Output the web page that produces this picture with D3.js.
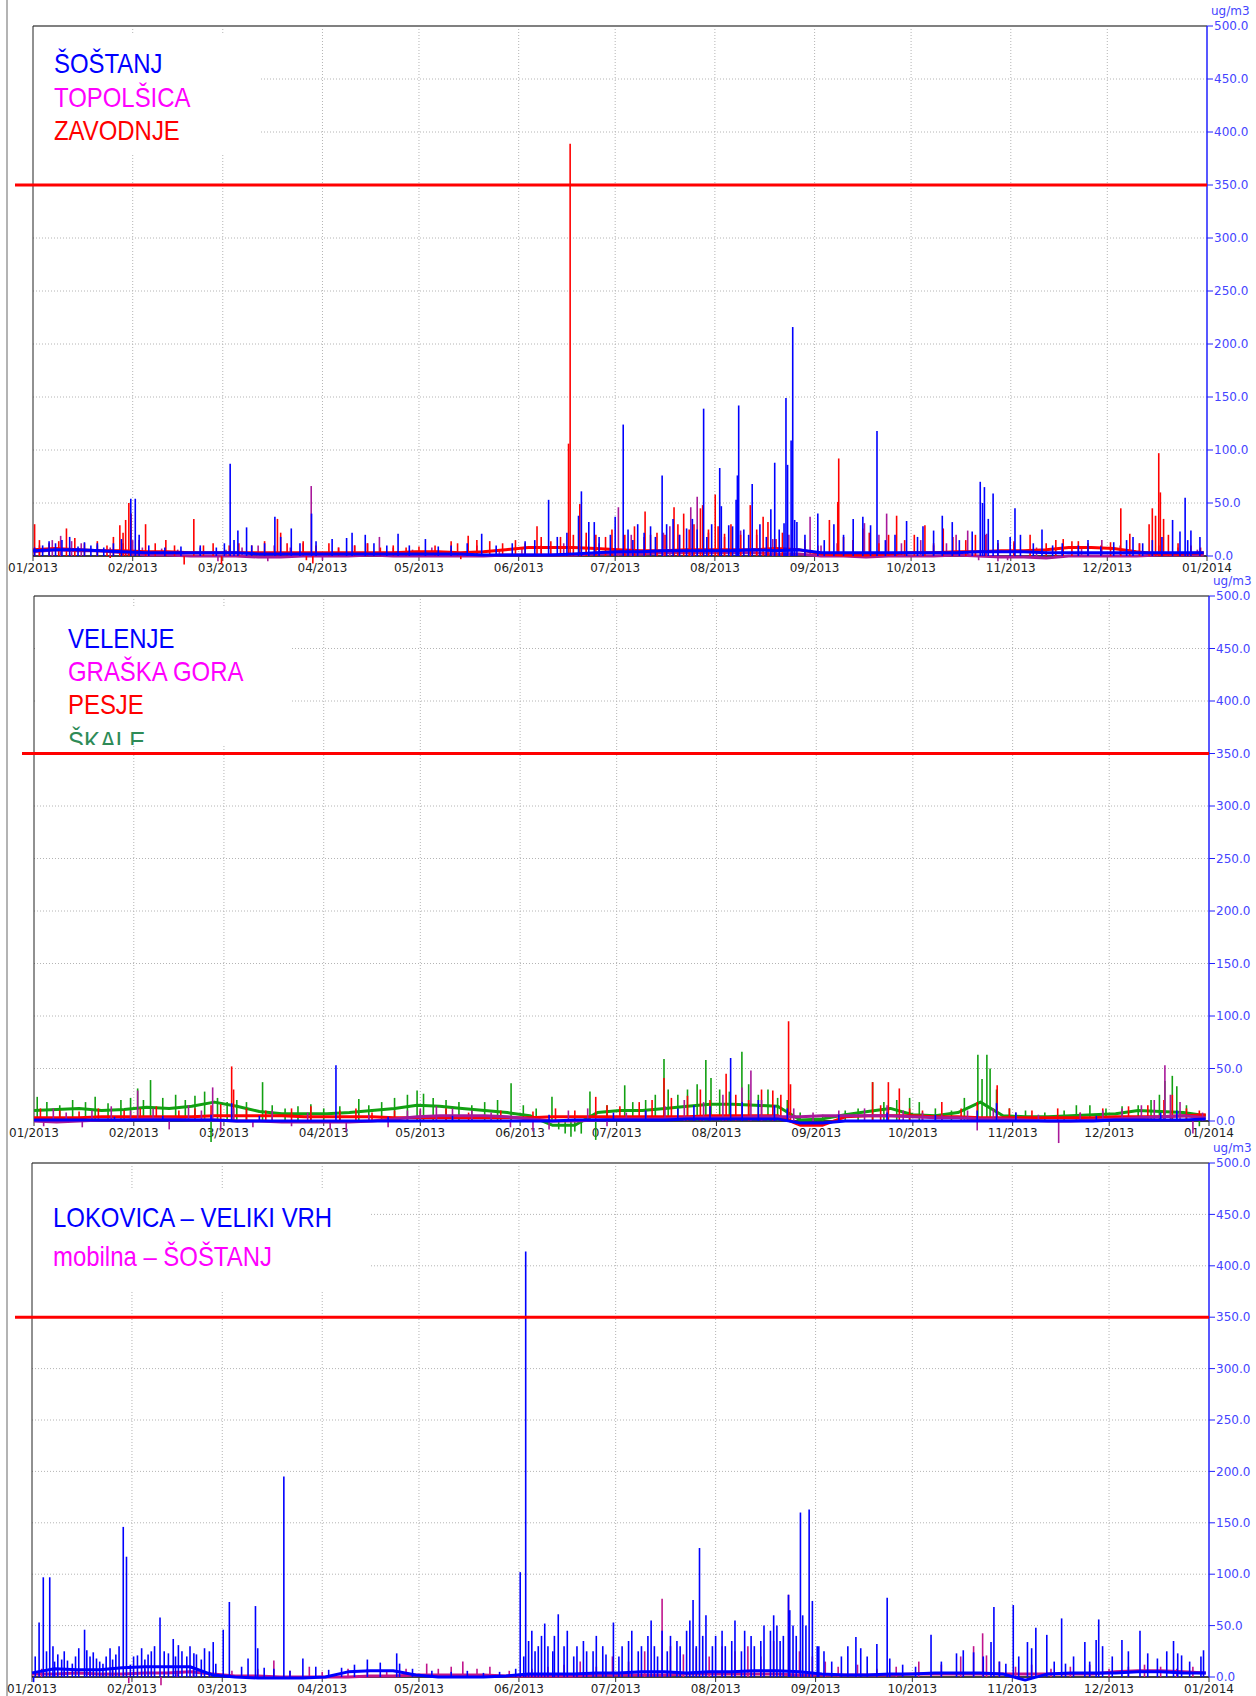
<!DOCTYPE html>
<html>
<head>
<meta charset="utf-8">
<script src="https://cdn.jsdelivr.net/npm/d3@7"></script>
<style>
  body { margin: 0; background: #fff; }
  svg { display: block; }
</style>
</head>
<body>
<svg id="chart" width="1256" height="1696"></svg>
<script>
// x tick labels (one per month, 01/2013 .. 01/2014)
var monthLabels = ["01/2013", "02/2013", "03/2013", "04/2013", "05/2013", "06/2013",
  "07/2013", "08/2013", "09/2013", "10/2013", "11/2013", "12/2013", "01/2014"];
var yTicks = [0, 50, 100, 150, 200, 250, 300, 350, 400, 450, 500];
var limitValue = 350;

// ---- panel 1 ----
// weekly base level (week i starts at day 7*i of 2013), ug/m3
var sostanjBase = [5,6,6,5,4, 3,3,3,3, 3,2,2,2, 2,2,2,2,2, 2,2,1,1, 1,1,2,3, 4,4,5,5,5, 5,6,5,6, 3,3,3,3, 3,3,3,4,4, 4,3,3,3, 3,3,3,3,3];
var topolsicaBase = [4,6,5,5,3, 1,1,0,0, 0,-1,-1,0, 0,0,1,0,0, 0,0,0,1, 1,1,1,2, 2,2,3,3,3, 3,3,2,2, 0,0,-1,0, 0,0,1,0,-1, -1,-2,0,0, 0,0,1,1,1];
var zavodnjeBase = [6,7,6,5,5, 4,4,3,3, 3,3,3,3, 3,3,3,3,4, 4,3,4,6, 8,8,8,7, 6,5,5,6,6, 6,6,7,6, 2,1,1,2, 3,3,4,4,5, 5,6,8,8, 7,4,2,2,3];
// peaks: [day of year, ug/m3]
var sostanjPeaks = [[0.5,8],[3,10],[5,14],[7,12],[9,15],[11.4,18],[14,9],[16,13],[18,10],[20,12],[22,8],[25,12],[27.5,16],[30.4,54],[31.8,54],[33,20],[36,10],[41,8],[46,9],[52,10],[57,8],[59.5,12],[61.3,87],[62.5,15],[63.7,24],[66.4,27],[68,10],[72,12],[75.2,37],[77,18],[80.3,26],[83,12],[86.6,40],[88,14],[93,16],[97.5,17],[99.2,22],[103.3,20],[106,12],[110,10],[113.5,21],[117,10],[122,16],[126,9],[130,10],[135,12],[139.5,21],[144,10],[149,12],[153,14],[156,15],[160.3,53],[163,18],[166,22],[169.6,38],[170.5,61],[172.8,32],[174.5,32],[176,18],[179.5,20],[181,37],[183.5,124],[185,25],[186.5,15],[188,30],[190,22],[192,28],[193.5,18],[195.6,76],[197,30],[199,35],[201,20],[203.2,26],[205,35],[206.5,25],[208.5,139],[209.5,18],[211,30],[213.5,83],[214,47],[216.3,29],[217.5,28],[218.6,53],[219,76],[219.4,142],[221,25],[222.5,20],[223.6,68],[226,30],[228,18],[229.4,44],[230.6,88],[232,25],[233.5,31],[234.1,149],[234.6,86],[235.7,109],[236.2,216],[236.8,34],[237.5,32],[240,20],[244,40],[246,15],[249,30],[252,20],[255,35],[258,37],[260.4,29],[262.4,118],[265,15],[268,20],[271.6,33],[275,18],[276.7,28],[280,24],[282.7,38],[285.8,32],[288,15],[292,23],[294.5,70],[295.2,50],[295.8,65],[297,35],[298.5,59],[300,15],[303.8,18],[305.3,45],[307,20],[311,12],[313.7,25],[317,10],[320,12],[325,10],[328,15],[332,9],[336,13],[340,15],[342,18],[345,12],[348,15],[351,18],[354.3,34],[356.6,23],[358.2,55],[359,15],[360,24],[362.8,18]];
var topolsicaPeaks = [[2,10],[6,15],[8.6,19],[12,14],[15,12],[20,10],[24,8],[28,12],[31,15],[34,8],[40,7],[45,6],[52,8],[57.5,-5],[60,6],[65,8],[70,10],[73,-5],[75,10],[80,8],[84,12],[86.5,66],[90,-4],[95,8],[100,10],[104,12],[107.7,18],[112,8],[118,6],[124,8],[130,6],[138,10],[145,6],[152,8],[158,10],[165,12],[172,15],[176,12],[182,46],[186,20],[190,18],[196,22],[198,28],[201,20],[204.5,46],[206.5,56],[210,22],[215,18],[220,24],[225,20],[230,16],[235,20],[241.6,37],[245,10],[250,12],[255,15],[258.5,31],[263,20],[265.4,40],[270,12],[276,15],[280,10],[284,12],[287,20],[290.6,24],[294,-4],[296.5,21],[300,-5],[303,-4],[305,12],[312,8],[320,6],[326,8],[332.3,15],[338,10],[344,12],[350,10],[356,8],[362,6]];
var zavodnjePeaks = [[0.5,30],[2,15],[5,12],[8,14],[10.4,26],[13,17],[16,12],[20,14],[23,10],[24,-2],[25,18],[27,29],[28,22],[28.8,34],[29.8,50],[30.5,40],[33,15],[35,30],[38,12],[41.3,15],[44,10],[47,-8],[50,35],[53,10],[56,12],[58.6,-8],[61,10],[64,12],[68,10],[72,14],[76,35],[77,22],[79,12],[84,14],[85,-4],[87,-7],[88,10],[92,12],[95,8],[100,10],[104,12],[108,8],[112,10],[116,8],[120,9],[125,10],[130,14],[132,12],[133,-3],[135.3,19],[138,15],[142,14],[146,12],[150,15],[153,12],[156.7,28],[158,18],[161,14],[164,18],[166.5,106],[167,389],[168,20],[170,49],[172,22],[175,20],[178,18],[180,25],[184,20],[187,28],[190.3,42],[192,20],[194,22],[196.5,20],[199.3,46],[200.5,30],[202.3,40],[204,25],[205.5,30],[207.5,45],[208.2,48],[210,25],[212.1,58],[213,28],[215,21],[217,30],[220,20],[223,48],[225,25],[227,37],[228.5,32],[231,16],[233,22],[236,25],[240,15],[244,10],[247.6,34],[250.2,51],[250.5,92],[252,18],[255,15],[258,26],[260,22],[263,12],[266,20],[268.5,38],[271,15],[274,20],[277.3,29],[280,12],[283,26],[286,18],[290,15],[293,20],[296,20],[300,12],[305,14],[310,20],[315,12],[318,15],[320.3,16],[323,14],[325,14],[328,12],[332,10],[335,13],[338.2,45],[341,21],[344,12],[347,30],[348,45],[349,38],[350,97],[350.5,60],[351.5,35],[353,20],[356,12],[360,10],[363,8]];

// ---- panel 2 ----
var velenjeBase = [1,1,1,1,1, 1,1,1,1, 0,0,0,0, 0,0,0,0,0, 0,0,0,0, 0,0,1,1, 1,1,1,2,2, 2,2,2,-2, -2,0,0,0, 0,0,0,0,0, 0,0,0,0, 1,1,1,1,2];
var graskaBase = [0,-1,0,1,1, 2,2,1,1, 0,0,-1,-1, -1,-1,0,2,4, 5,5,5,4, 2,0,0,1, 2,2,2,3,3, 3,4,4,4, 5,5,5,5, 4,3,3,2,2, 1,0,0,1, 2,3,4,5,3];
var pesjeBase = [3,3,3,4,4, 4,4,4,5, 5,5,5,4, 4,4,4,3,3, 3,3,3,3, 3,4,4,4, 4,4,4,4,5, 5,5,5,-4, -4,4,5,5, 5,4,4,3,3, 3,3,3,3, 4,4,4,5,6];
var skaleBase = [10,11,12,10,11, 13,12,14,18, 14,9,7,7, 7,8,10,12,15, 14,12,10,8, 5,-4,-4,8, 10,10,12,14,16, 16,15,14,1, 2,6,9,12, 6,5,8,18,5, 4,4,5,6, 7,10,9,8,5];
var velenjePeaks = [[25,4],[40,5],[55,6],[61.4,17],[70,5],[93.8,53],[110,4],[130,5],[160,6],[180,8],[190,10],[200,12],[205,15],[210,14],[216.4,60],[220,18],[225,20],[230,15],[234,12],[250,6],[265,8],[280,6],[293,10],[299,17],[305,8],[330,5],[350,8],[355,10]];
var graskaPeaks = [[3,-5],[6,12],[10,8],[15,-6],[18,10],[24,14],[30,10],[32.2,29],[37,12],[42,-8],[48,15],[52,10],[55.5,32],[58,-10],[62,12],[68,-6],[74,10],[80,-5],[85,8],[92,-8],[97,-10],[104,6],[110,-6],[116,10],[120,12],[125,14],[130,12],[136,10],[142,8],[148,-6],[155,-10],[160,-8],[166,10],[172,12],[178,-5],[184,8],[190,10],[196,14],[202,20],[208,18],[214,25],[219.9,32],[222.7,48],[226,20],[230,15],[236,12],[242,8],[250,10],[258,12],[265,15],[270,10],[276,8],[282,6],[290,10],[293,-9],[298,12],[305,8],[312,6],[318.3,-21],[325,8],[332,10],[338,12],[344,15],[348,20],[351.3,53],[353,25],[356,18],[360,-12],[363,8]];
var pesjePeaks = [[2,12],[8,10],[14,9],[20,12],[28,10],[33,12],[38,14],[45,10],[50,12],[55,15],[58,16],[61.4,52],[62,30],[66,12],[72,10],[80,12],[86,14],[95,10],[100,12],[105,8],[112,10],[120,10],[128,12],[135,8],[145,10],[155,9],[162,12],[168,10],[174.5,23],[178,15],[182,14],[188,18],[192,20],[195.7,41],[198,22],[203,24],[207,30],[210,20],[215,45],[218,25],[222,20],[226,30],[229.5,29],[232,25],[234.4,95],[235,35],[260.5,37],[263,15],[265.4,37],[268.8,31],[272,12],[276,10],[282,18],[288,12],[293,18],[299.2,34],[303,12],[310,10],[318,12],[325,8],[332,12],[340,14],[346,15],[351,20],[353.6,25],[358,12],[362,10]];
var skalePeaks = [[1,23],[4,18],[8,15],[12,20],[16,18],[19,23],[23,17],[27,20],[30,22],[32.2,31],[34,20],[36.2,39],[40,22],[44,25],[47,20],[50,24],[53,28],[55,-20],[57,22],[60,18],[63,20],[66,18],[71,37],[74,15],[78,12],[82,14],[86,16],[90,12],[95,14],[100.9,21],[104,15],[108,18],[112,22],[116,25],[119,29],[121,26],[124,22],[128,20],[132,18],[136,15],[140,18],[144,20],[148.2,36],[152,15],[156,12],[160.9,23],[163,-8],[165,-12],[166.8,-15],[168,-10],[170,-12],[172.7,28],[174.5,-18],[178,15],[183.5,34],[186,18],[190,20],[193,25],[195.7,59],[197,30],[200,25],[203,30],[206,35],[208.7,58],[210.3,41],[213,30],[216,28],[219.9,66],[222,35],[225,25],[228,30],[231,22],[234,20],[238,8],[245,6],[252,10],[256,12],[260.5,37],[264,18],[268,20],[272,22],[275,18],[280,12],[285,10],[289,22],[293.2,63],[294.5,40],[296,63],[297,50],[299,30],[303,12],[308,10],[314,8],[320,10],[323.8,15],[328,15],[333,12],[338,14],[343,15],[347,20],[349.6,25],[351.3,38],[353.6,43],[355,33],[358,15],[362,-5]];

// ---- panel 3 ----
var lokovicaBase = [4,8,7,7,9, 10,10,10,2, 0,-1,-1,-1, 0,5,6,6,2, 0,0,0,1, 3,3,3,4, 4,5,5,4,5, 5,6,6,5, 3,2,2,3, 3,4,4,4,3, -3,3,4,4, 4,5,5,4,4];
var mobilnaBase = [3,3,4,3,3, 4,4,5,3, 1,1,0,0, 0,0,1,1,2, 2,2,2,1, 1,1,1,2, 2,2,2,3,3, 3,3,3,2, 2,2,2,2, 3,3,3,3,3, 3,3,3,3, 5,6,6,5,4];
var lokovicaPeaks = [[0.5,-5],[1,20],[2.2,53],[3.5,97],[4.5,25],[5.5,97],[6.5,30],[7,15],[8,22],[9.2,17],[10,25],[11,16],[12.5,13],[13.5,20],[14.5,28],[16.3,46],[17,26],[18,20],[19,24],[20,18],[21,15],[22,13],[23,20],[24.2,28],[25,17],[26,22],[27,30],[28.3,146],[29.3,117],[30.5,12],[31.5,20],[32.7,21],[34,28],[35,17],[36,22],[37,25],[38,30],[39.7,58],[41,25],[42.3,23],[43.8,37],[44.5,20],[45.4,31],[46.5,25],[48,20],[49,30],[50.2,23],[51,22],[52.5,17],[53.5,28],[55,25],[56.2,34],[57,13],[59.3,46],[61.2,73],[65,10],[67,18],[69.3,69],[70,28],[72,9],[75,8],[78.1,195],[80,6],[84,18],[88,10],[92,7],[96,9],[100,12],[104,17],[108,14],[113.1,23],[114,13],[118,8],[124,6],[130,5],[135,6],[140,4],[145,5],[150,8],[151.4,102],[152.5,20],[153.1,414],[154,35],[155,45],[156,25],[157,30],[158,40],[159,52],[160,30],[161.5,25],[162,40],[163.2,61],[165,30],[166,45],[168,20],[169,30],[171,35],[172,25],[174,25],[175,40],[177,30],[178,22],[180.3,53],[182,20],[183,30],[185,35],[186,45],[188,25],[189,30],[191,40],[192,55],[193,30],[194,20],[195.4,45],[197,25],[198,40],[200,35],[201,30],[203,45],[204,55],[205,75],[206,30],[207,125.5],[208,40],[209,60],[211,30],[212,40],[214,45],[215,30],[217,35],[218,55],[220,25],[221,45],[223,40],[224,30],[226,35],[227,50],[229,45],[230,60],[231,50],[232,35],[233,40],[234.6,80],[235,65],[236,50],[237,40],[238.3,160],[239,60],[240,50],[241,163],[242,74],[243.5,30],[244,30],[245.6,25],[248,15],[251,20],[253,30],[255.5,39],[257,28],[259,20],[262,32],[265.2,77],[266,18],[270,12],[274,10],[278.8,41],[282,15],[286.7,23],[288.8,26],[292,24],[295,20],[297.4,34],[298.3,68],[300,15],[302,13],[304.3,70],[306,20],[308.7,34],[310,28],[311.3,48],[314.7,41],[317,15],[319.3,57],[320.5,13],[323,20],[326.5,34],[328,15],[330,36],[330.8,56],[332,30],[335,20],[338,36],[340,25],[343.6,45],[346,23],[349,18],[351.9,25],[354,35],[355.3,23],[356.5,21],[359,15],[362.5,20],[363.3,26]];
var mobilnaPeaks = [[3,8],[10,6],[18,8],[25,10],[30,-6],[35,8],[40,-8],[45,6],[50,7],[55,5],[62,6],[70,8],[75,16],[80,6],[86,10],[90,5],[98,8],[104,8],[110,6],[116,8],[122.4,13],[126,8],[130,10],[133.6,15],[138,8],[142,10],[148,6],[155,8],[160,10],[165,12],[170,15],[175,10],[180,20],[185,15],[190,25],[195.4,76],[198,30],[202,22],[206,28],[210,20],[214,30],[218,25],[222,30],[226,20],[230,35],[234.6,80],[238,25],[242,20],[246,15],[250,10],[256,12],[262,8],[268,10],[275,15],[282,12],[288,20],[292,30],[294.8,42.5],[296,21],[300,15],[305,10],[310,12],[316,8],[322,10],[328,12],[334,8],[340,10],[345,12],[350,10],[355,8],[360,10]];

var svg = d3.select("#chart");
var start = Date.UTC(2013, 0, 1);
function day(d) { return new Date(start + d * 864e5); }

var legendFont = "'Liberation Sans', Arial, sans-serif";
var axisFont = "'DejaVu Sans', Verdana, sans-serif";

// page border on the left
svg.append("line")
  .attr("x1", 7).attr("x2", 7).attr("y1", 0).attr("y2", 1696)
  .attr("stroke", "#b4b4b4").attr("stroke-width", 2);

var panels = [
  {
    left: 33, right: 1207, top: 26, bottom: 556, limitX: 15,
    box: [33, 35, 227, 120], clipY: null, legendX: 54, legendY: [73, 107, 140],
    names: ["ŠOŠTANJ", "TOPOLŠICA", "ZAVODNJE"],
    nameColors: ["#0000ff", "#ff00ff", "#ff0000"],
    series: [
      { base: topolsicaBase, peaks: topolsicaPeaks, color: "#a8189a" },
      { base: zavodnjeBase, peaks: zavodnjePeaks, color: "#ff0000" },
      { base: sostanjBase, peaks: sostanjPeaks, color: "#0000ff" }
    ]
  },
  {
    left: 34, right: 1209, top: 596, bottom: 1121, limitX: 22,
    box: [35, 608, 255, 138], clipY: 745, legendX: 68, legendY: [648, 681, 714, 751],
    names: ["VELENJE", "GRAŠKA GORA", "PESJE", "ŠKALE"],
    nameColors: ["#0000ff", "#ff00ff", "#ff0000", "#2e8b57"],
    series: [
      { base: skaleBase, peaks: skalePeaks, color: "#12a012" },
      { base: pesjeBase, peaks: pesjePeaks, color: "#ff0000" },
      { base: graskaBase, peaks: graskaPeaks, color: "#a8189a" },
      { base: velenjeBase, peaks: velenjePeaks, color: "#0000ff" }
    ]
  },
  {
    left: 32, right: 1209, top: 1163, bottom: 1677, limitX: 15,
    box: [32, 1188, 338, 102], clipY: null, legendX: 53, legendY: [1227, 1266],
    names: ["LOKOVICA – VELIKI VRH", "mobilna – ŠOŠTANJ"],
    nameColors: ["#0000ff", "#ff00ff"],
    series: [
      { base: mobilnaBase, peaks: mobilnaPeaks, color: "#c0148c" },
      { base: lokovicaBase, peaks: lokovicaPeaks, color: "#0000ff" }
    ]
  }
];

panels.forEach(drawPanel);

function drawPanel(p, pi) {
  var x = d3.scaleUtc().domain([day(0), day(365)]).range([p.left, p.right]);
  var y = d3.scaleLinear().domain([0, 500]).range([p.bottom, p.top]);
  var g = svg.append("g");
  var months = x.ticks(d3.utcMonth.every(1));

  // dotted grid
  g.selectAll(".vgrid").data(months.slice(1, -1)).join("line")
    .attr("x1", d => x(d)).attr("x2", d => x(d))
    .attr("y1", p.top).attr("y2", p.bottom)
    .attr("stroke", "#b4b4b4").attr("stroke-dasharray", "1,2");
  g.selectAll(".hgrid").data(yTicks.slice(1, -1)).join("line")
    .attr("x1", p.left).attr("x2", p.right)
    .attr("y1", d => y(d)).attr("y2", d => y(d))
    .attr("stroke", "#b4b4b4").attr("stroke-dasharray", "1,2");

  // legend background hides the grid
  g.append("rect")
    .attr("x", p.box[0]).attr("y", p.box[1])
    .attr("width", p.box[2]).attr("height", p.box[3])
    .attr("fill", "#fff");

  // frame
  g.append("line").attr("x1", p.left).attr("x2", p.right).attr("y1", p.top).attr("y2", p.top)
    .attr("stroke", "#808080").attr("stroke-width", 2);
  g.append("line").attr("x1", p.left).attr("x2", p.left).attr("y1", p.top).attr("y2", p.bottom)
    .attr("stroke", "#222").attr("stroke-width", 1);
  g.append("line").attr("x1", p.left).attr("x2", p.right).attr("y1", p.bottom).attr("y2", p.bottom)
    .attr("stroke", "#000").attr("stroke-width", 1.5);

  // x ticks and labels
  g.selectAll(".xtick").data(months).join("line")
    .attr("x1", d => x(d)).attr("x2", d => x(d))
    .attr("y1", p.bottom).attr("y2", p.bottom + 5)
    .attr("stroke", "#333");
  g.selectAll(".xlabel").data(months).join("text")
    .attr("x", d => x(d)).attr("y", p.bottom + 16)
    .attr("text-anchor", "middle")
    .attr("font-family", axisFont).attr("font-size", 12).attr("fill", "#222")
    .text((d, i) => monthLabels[i]);

  // series: base level line plus peak strokes
  var line = d3.line().x((d, i) => x(day(i * 7))).y(d => y(d));
  p.series.forEach(function (s) {
    g.append("path").datum(s.base)
      .attr("d", line)
      .attr("fill", "none").attr("stroke", s.color)
      .attr("stroke-width", 3).attr("stroke-linejoin", "round");
    g.append("g").selectAll("line").data(s.peaks).join("line")
      .attr("x1", d => x(day(d[0]))).attr("x2", d => x(day(d[0])))
      .attr("y1", y(0)).attr("y2", d => y(d[1]))
      .attr("stroke", s.color).attr("stroke-width", 1.6);
  });

  // right axis
  g.append("line").attr("x1", p.right).attr("x2", p.right).attr("y1", p.top).attr("y2", p.bottom)
    .attr("stroke", "#2020ff").attr("stroke-width", 1.5);
  g.selectAll(".ytick").data(yTicks).join("line")
    .attr("x1", p.right).attr("x2", p.right + 6)
    .attr("y1", d => y(d)).attr("y2", d => y(d))
    .attr("stroke", "#2020ff");
  g.selectAll(".ylabel").data(yTicks).join("text")
    .attr("x", p.right + 7).attr("y", d => y(d)).attr("dy", "0.35em")
    .attr("font-family", axisFont).attr("font-size", 12).attr("fill", "#4444ff")
    .text(d => d3.format(".1f")(d));
  g.append("text")
    .attr("x", p.right + 4).attr("y", p.top - 11)
    .attr("font-family", axisFont).attr("font-size", 12).attr("fill", "#4444ff")
    .text("ug/m3");

  // 350 ug/m3 limit
  g.append("line")
    .attr("x1", p.limitX).attr("x2", p.right)
    .attr("y1", y(limitValue)).attr("y2", y(limitValue))
    .attr("stroke", "#ff0000").attr("stroke-width", 3);

  // legend names
  var lg = g.append("g");
  if (p.clipY) {
    svg.append("clipPath").attr("id", "legclip" + pi)
      .append("rect").attr("x", 0).attr("y", 0).attr("width", 1256).attr("height", p.clipY);
    lg.attr("clip-path", "url(#legclip" + pi + ")");
  }
  lg.selectAll("text").data(p.names).join("text")
    .attr("transform", (d, i) => "translate(" + p.legendX + "," + p.legendY[i] + ") scale(0.87,1)")
    .attr("font-family", legendFont).attr("font-size", 27.5)
    .attr("fill", (d, i) => p.nameColors[i])
    .text(d => d);
}
</script>
</body>
</html>
